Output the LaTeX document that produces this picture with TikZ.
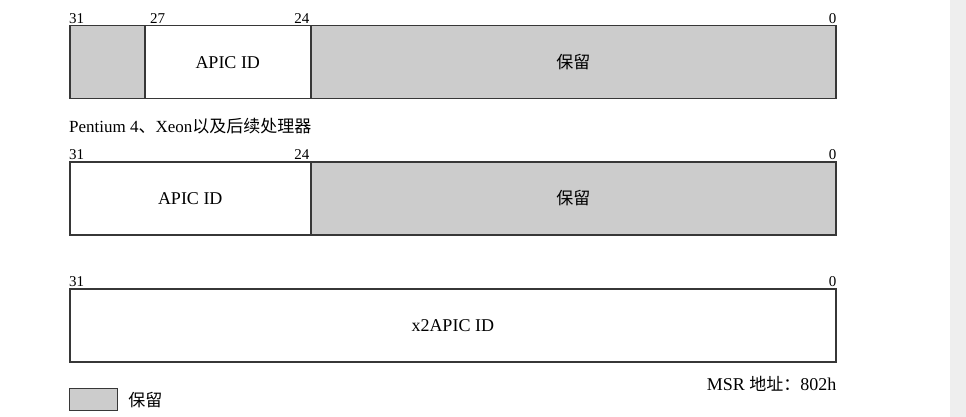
\documentclass[tikz,border=0pt]{standalone}
\usepackage{fontspec}
\setmainfont{Liberation Serif}
\newfontfamily\cjk{Noto Sans CJK SC}
\usepackage{tikz}
\usetikzlibrary{positioning}
\definecolor{regline}{RGB}{55,55,55}
\definecolor{regres}{RGB}{204,204,204}
\definecolor{regstrip}{RGB}{238,238,238}
\newcommand{\bitfont}{\fontsize{15}{16}\selectfont}
\newcommand{\labfont}{\fontsize{18}{20}\selectfont}
\tikzset{
  field/.style={rectangle, draw=regline, line width=1.5pt, fill=white,
                minimum height=73pt, inner sep=0pt, anchor=north west,
                font=\labfont},
  resfield/.style={field, fill=regres},
  bitlab/.style={inner sep=0pt, font=\bitfont},
  lab/.style={inner sep=0pt, font=\labfont},
}
\begin{document}
\begin{tikzpicture}[x=1pt, y=-1pt]
  \useasboundingbox (0,0) rectangle (966,417);
  \fill[regstrip] (950,0) rectangle (966,417);
  % older processors
  \node[resfield, minimum width=75pt] (ares) at (69,25) {};
  \node[field, minimum width=166pt] (aid) at (144,25) {APIC ID};
  \node[resfield, minimum width=525pt] (arsv) at (310,25) {\cjk\fontsize{17}{20}\selectfont 保留};
  \node[bitlab, anchor=south west] (a31) at ([yshift=1pt]ares.north west) {31};
  \node[bitlab, anchor=south west] (a27) at ([xshift=6pt,yshift=1pt]aid.north west) {27};
  \node[bitlab, anchor=south east] (a24) at ([xshift=-2pt,yshift=1pt]aid.north east) {24};
  \node[bitlab, anchor=south east] (a0) at ([yshift=1pt]arsv.north east) {0};
  % Pentium 4 and later
  \node[lab, anchor=west, font=\fontsize{17}{20}\selectfont] (cap) at (69,126)
    {Pentium 4{\cjk 、}Xeon{\cjk 以及后续处理器}};
  \node[field, minimum width=241pt] (bid) at (69,161) {APIC ID};
  \node[resfield, minimum width=525pt] (brsv) at (310,161) {\cjk\fontsize{17}{20}\selectfont 保留};
  \node[bitlab, anchor=south west] (b31) at ([yshift=1pt]bid.north west) {31};
  \node[bitlab, anchor=south east] (b24) at ([xshift=-2pt,yshift=1pt]bid.north east) {24};
  \node[bitlab, anchor=south east] (b0) at ([yshift=1pt]brsv.north east) {0};
  % x2APIC
  \node[field, minimum width=766pt] (x2) at (69,288) {x2APIC ID};
  \node[bitlab, anchor=south west] (c31) at ([yshift=1pt]x2.north west) {31};
  \node[bitlab, anchor=south east] (c0) at ([yshift=1pt]x2.north east) {0};
  \node[lab, anchor=north east] (msr) at ([yshift=-14pt]x2.south east) {MSR {\cjk\fontsize{17}{20}\selectfont 地址：}802h};
  % legend
  \node[resfield, minimum width=48pt, minimum height=22pt, line width=1.2pt] (key) at (69,388) {};
  \node[lab, right=10pt of key, font=\fontsize{17}{20}\selectfont] (keylab) {\cjk 保留};
\end{tikzpicture}
\end{document}
